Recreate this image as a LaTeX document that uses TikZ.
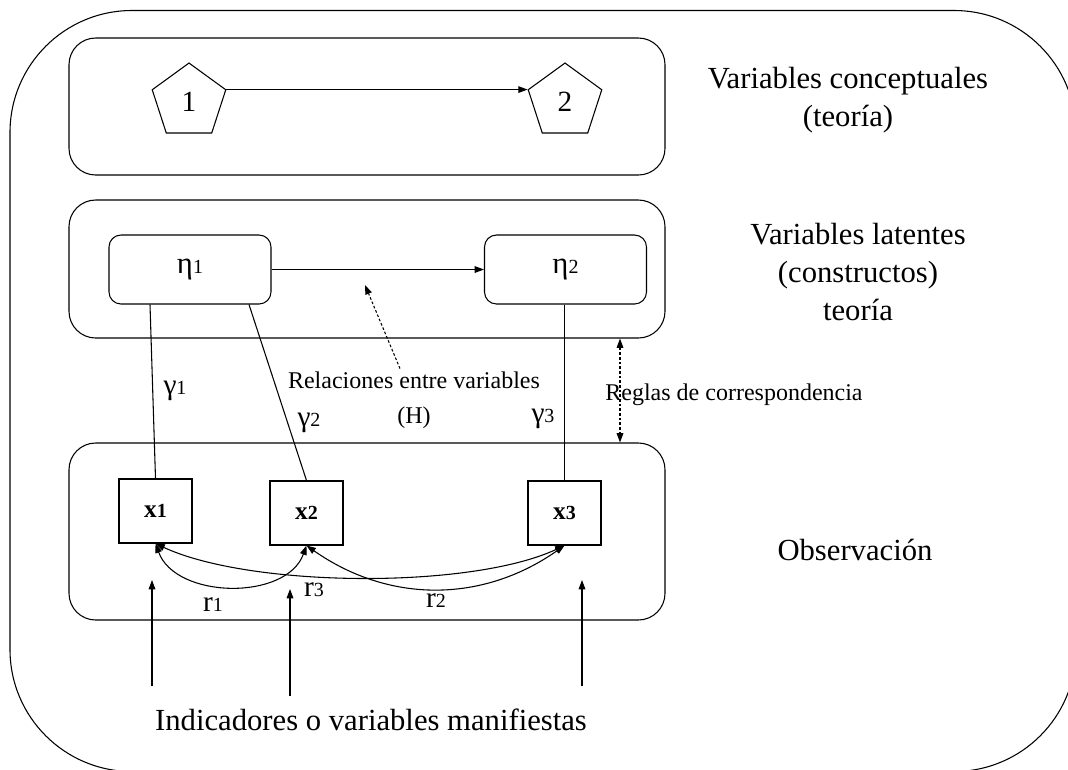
\documentclass[tikz,border=0pt]{standalone}
\usepackage{fontspec}
\setmainfont{Liberation Serif}
\usetikzlibrary{arrows.meta,calc,shapes.geometric}
% small index digit after a symbol
\newcommand\ix[1]{{\fontsize{15}{15}\selectfont #1}}

\begin{document}
\begin{tikzpicture}[x=0.75pt,y=-0.75pt,line width=0.8pt,
  >={Triangle[length=7pt,width=5pt]},
  panel/.style={draw,rounded corners=20pt,minimum width=447pt,inner sep=0pt},
  penta/.style={draw,regular polygon,regular polygon sides=5,minimum size=58pt,
    inner sep=0pt,font=\fontsize{22}{22}\selectfont},
  latent/.style={draw,rounded corners=9pt,minimum width=121.5pt,minimum height=51.75pt,
    font=\fontsize{23}{23}\selectfont},
  manifest/.style={draw,minimum width=54.75pt,minimum height=48pt,
    font=\fontsize{19}{19}\selectfont\bfseries},
  big/.style={align=center,font=\fontsize{23}{28.5}\selectfont},
  note/.style={align=center,inner sep=2pt,font=\fontsize{18}{26}\selectfont},
  coef/.style={font=\fontsize{22}{22}\selectfont},
  hint/.style={dash pattern=on 2pt off 1.5pt}]
  \useasboundingbox (0,0) rectangle (1068,769);
  \clip (0,0) rectangle (1068,769);

  \node[draw,rounded corners=91.5pt,minimum width=799.5pt,minimum height=570.75pt,
    inner sep=0pt] (frame) at (543,391) {};

  % three layers
  \node[panel,minimum height=102.75pt] (theory) at (367,106.5) {};
  \node[panel,minimum height=103.5pt] (mid) at (367,269) {};
  \node[panel,minimum height=132.75pt] (obs) at (367,531.5) {};

  \node[penta] (p1) at (189,101.7) {1};
  \node[penta] (p2) at (565,101.7) {2};
  \draw[->] (p1.corner 5) -- (p2.corner 2);

  \node[latent] (eta1) at (190,269.5) {η\ix{1}};
  \node[latent] (eta2) at (565.5,269.5) {η\ix{2}};
  \draw[->] (eta1) -- (eta2);

  \node[manifest] (x1) at (155.5,511) {x\ix{1}};
  \node[manifest] (x2) at (306.5,513) {x\ix{2}};
  \node[manifest] (x3) at (564.5,513) {x\ix{3}};

  % loadings
  \draw ($(eta1.south)+(-40,0)$) -- (x1.north);
  \draw ($(eta1.south)+(59,0)$) -- (x2.north);
  \draw (eta2.south -| x3.north) -- (x3.north);
  \node[coef] (g1) at (175,391) {γ\ix{1}};
  \node[coef] (g2) at (309,423) {γ\ix{2}};
  \node[coef] (g3) at (543,419) {γ\ix{3}};

  % correlations
  \draw[<->] (x1.south) to[out=-70,in=-110] (x2.south);
  \draw[<->] (x1.south) to[out=-25,in=-155,looseness=0.65] (x3.south);
  \draw[<->] (x2.south) to[out=-35,in=-145] (x3.south);
  \node[coef] (r1) at (213,605) {r\ix{1}};
  \node[coef] (r3) at (314,590) {r\ix{3}};
  \node[coef] (r2) at (436,601) {r\ix{2}};

  \node[note] (rel) at (414,400) {Relaciones entre variables\\(H)};
  \coordinate (relTip) at (365,285);
  \draw[->,hint] ($(rel.north)+(-14,0)$) -- (relTip);

  \coordinate (rc) at (620,0);
  \draw[<->,hint] (mid.south -| rc) -- (obs.north -| rc);
  \node[note] (rules) at (734,395) {Reglas de correspondencia};

  \node[big] (concept) at (848,100) {Variables conceptuales\\(teoría)};
  \node[big] (latlbl) at (858,272) {Variables latentes\\(constructos)\\teoría};
  \node[big] (observ) at (855,550) {Observación};
  \node[big] (indic) at (371,720) {Indicadores o variables manifiestas};

  \foreach \xx/\yb/\yt [count=\i] in {152/686/580, 290/696/589, 582/686/580} {
    \coordinate (ind\i) at (\xx,\yb);
    \coordinate (indTip\i) at (\xx,\yt);
    \draw[->] (ind\i) -- (indTip\i);
  }
\end{tikzpicture}
\end{document}
